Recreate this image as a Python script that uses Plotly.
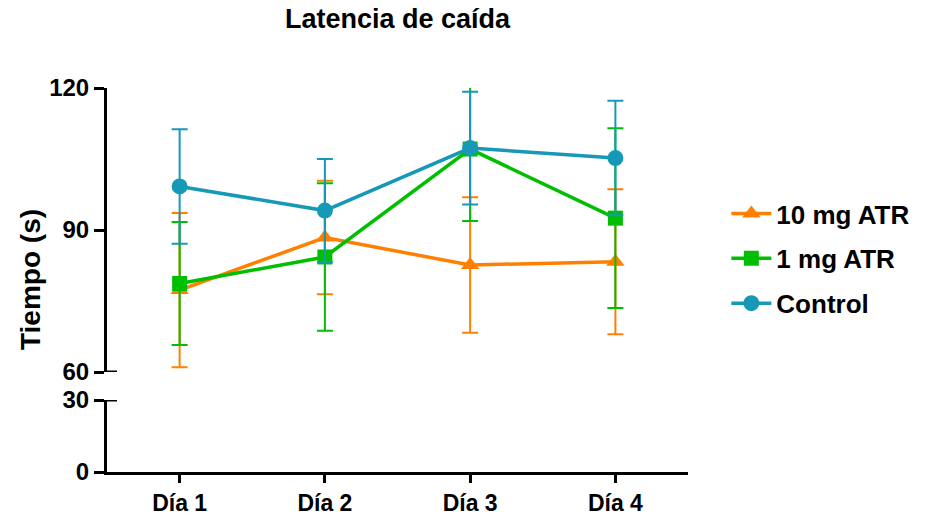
import plotly.graph_objects as go

# Fall latency per day, mean ± SEM (s)
days = ["Día 1", "Día 2", "Día 3", "Día 4"]
atr10 = [77.3, 88.4, 82.6, 83.3]
atr10_err = [16.3, 12.0, 14.3, 15.3]
atr1 = [78.7, 84.3, 107.1, 92.5]
atr1_err = [13.0, 15.6, 15.2, 19.0]
control = [99.2, 94.1, 107.3, 105.2]
control_err = [12.1, 10.9, 11.9, 12.1]

series_names = ["10 mg ATR", "1 mg ATR", "Control"]
upper_ticks = [60, 90, 120]
lower_ticks = [0, 30]

FONT = "Liberation Sans, Arial, sans-serif"
colors = ["#FF8000", "#00BF00", "#1699B6"]
symbols = ["triangle-up", "square", "circle"]
marker_sizes = [16, 15, 16]

fig = go.Figure()
for name, vals, errs, col, sym, ms in zip(
    series_names, [atr10, atr1, control], [atr10_err, atr1_err, control_err],
    colors, symbols, marker_sizes,
):
    fig.add_trace(go.Scatter(
        x=days, y=vals, name=name, legendgroup=name,
        mode="lines+markers", xaxis="x", yaxis="y2",
        line=dict(color=col, width=3.5),
        marker=dict(symbol=sym, size=ms, color=col),
        error_y=dict(type="data", array=errs, visible=True,
                     color=col, thickness=2, width=8),
    ))

axis_font = dict(family=FONT, size=24, color="black", weight="bold")

fig.update_layout(
    width=932, height=516,
    margin=dict(l=107, r=244, t=88, b=44),
    plot_bgcolor="white", paper_bgcolor="white",
    title=dict(text="Latencia de caída", x=0.4265, xanchor="center",
               y=1 - 19 / 516, yanchor="middle", yref="container",
               font=dict(family=FONT, size=27, color="black", weight="bold")),
    xaxis=dict(
        type="category", range=[-0.5, 3.5], anchor="y", automargin=False,
        showline=True, linecolor="black", linewidth=3,
        ticks="outside", ticklen=8, tickwidth=3, tickcolor="black",
        showgrid=False, zeroline=False,
        tickfont=dict(family=FONT, size=23, color="black", weight="bold"),
    ),
    yaxis=dict(
        domain=[0, 72 / 384], range=[0, 30], tickvals=lower_ticks, automargin=False,
        showline=True, linecolor="black", linewidth=3,
        ticks="outside", ticklen=10, tickwidth=3, tickcolor="black",
        showgrid=False, zeroline=False, tickfont=axis_font,
    ),
    yaxis2=dict(
        domain=[100 / 384, 1], range=[60, 120], tickvals=upper_ticks, anchor="x",
        automargin=False,
        showline=True, linecolor="black", linewidth=3,
        ticks="outside", ticklen=10, tickwidth=3, tickcolor="black",
        showgrid=False, zeroline=False, tickfont=axis_font,
    ),
    legend=dict(
        x=1.066, xanchor="left", y=0.734, yanchor="top",
        font=dict(family=FONT, size=26, color="black", weight="bold"),
        tracegroupgap=8, traceorder="grouped", itemwidth=40,
    ),
    annotations=[dict(
        text="Tiempo (s)", textangle=-90, xref="paper", yref="paper",
        x=-0.1325, y=0.5, xanchor="center", yanchor="middle", showarrow=False,
        font=dict(family=FONT, size=28, color="black", weight="bold"),
    )],
    shapes=[
        # break marks: ticks at the cut continue to the right of the axis
        dict(type="line", xref="paper", yref="y2", x0=0, x1=10 / 581, y0=60, y1=60,
             line=dict(color="black", width=3)),
        dict(type="line", xref="paper", yref="y", x0=0, x1=10 / 581, y0=30, y1=30,
             line=dict(color="black", width=3)),
    ],
)

fig.write_html("out.html")
